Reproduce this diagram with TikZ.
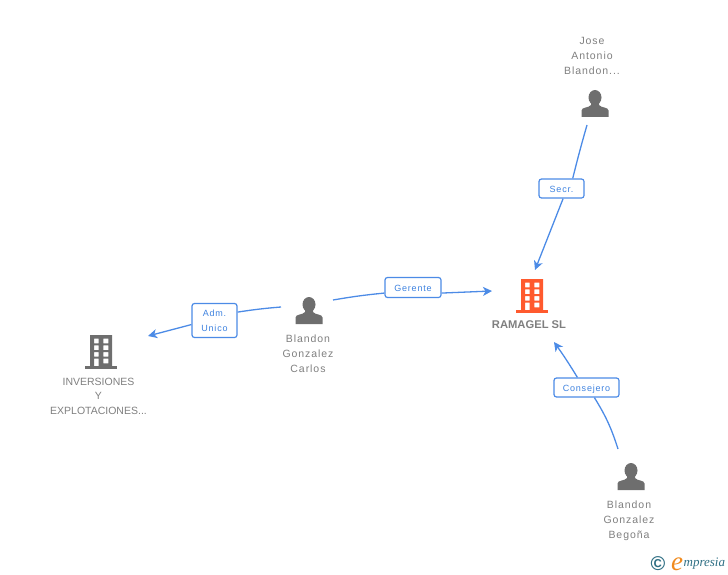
\documentclass[tikz,border=0pt]{standalone}
\usepackage{fontspec}
\setmainfont{Liberation Sans}
\newfontfamily\widefont[LetterSpace=9]{Liberation Sans}
\newfontfamily\logofont{Liberation Serif}
\usetikzlibrary{arrows,arrows.meta,calc}
\definecolor{linkblue}{HTML}{3F83E0}
\definecolor{edgeblue}{HTML}{4C8BE6}
\definecolor{textgrey}{HTML}{7F7F7F}
\definecolor{icongrey}{HTML}{6E6E6E}
\definecolor{firmred}{HTML}{FF5A2E}
\definecolor{logoteal}{HTML}{2F6F84}
\definecolor{logoorange}{HTML}{F08A1D}

\begin{document}
\begin{tikzpicture}
  [
    x=1pt, y=-1pt,
    role/.style =
      {draw=edgeblue, fill=white, rounded corners=2.5pt, line width=1.2pt, align=center,
       text=linkblue, inner sep=0pt, font=\widefont\fontsize{9}{15}\selectfont,
       execute at begin node={\rule{0pt}{9pt}}},
    who/.style =
      {align=center, text=textgrey, inner sep=0pt, font=\widefont\fontsize{10.5}{15}\selectfont},
    firm/.style =
      {align=center, text=textgrey, inner sep=0pt, font=\fontsize{10.5}{14.5}\selectfont},
    link/.style =
      {draw=edgeblue, line width=1.3pt},
    tip/.style =
      {->, >={Stealth[length=9pt, width=9pt, inset=2.5pt]}},
    person/.pic =
      {\fill[icongrey] (0,-6.5) ellipse (6.5 and 7.5);
       \fill[icongrey] (-13.5,13) -- (-13.5,6.5) .. controls (-13.5,3) and (-6,4) .. (-4,1)
         -- (-4,-3) -- (4,-3) -- (4,1) .. controls (6,4) and (13.5,3) .. (13.5,6.5) -- (13.5,13) -- cycle;},
    building/.pic =
      {\fill[#1, even odd rule] (-11,-17) rectangle (11,14)
         (-7,-13.3) rectangle (-2.3,-8.7) (2.3,-13.3) rectangle (7.3,-8.7)
         (-7,-6.7) rectangle (-2.3,-2) (2.3,-6.7) rectangle (7.3,-2)
         (-7,0) rectangle (-2.3,4.7) (2.3,0) rectangle (7.3,4.7)
         (-7,6.7) rectangle (-2.3,14) (2.3,6.7) rectangle (7.3,11.3);
       \fill[#1] (-16,14) rectangle (16,17);}
  ]
  \useasboundingbox (0,0) rectangle (728,575);

  \pic at (595,104) {person};
  \pic at (309,311) {person};
  \pic at (631,477) {person};
  \pic at (532,296) {building=firmred};
  \pic at (101,352) {building=icongrey};

  \node [who]  at (592,56)    (j) {Jose\\Antonio\\Blandon...};
  \node [who]  at (308,354)   (c) {Blandon\\Gonzalez\\Carlos};
  \node [who]  at (629,521)   (b) {Blandon\\Gonzalez\\Begoña};
  \node [firm] at (98.5,396)  (i) {INVERSIONES\\Y\\EXPLOTACIONES...};
  \node [firm, font=\bfseries\fontsize{11.2}{14}\selectfont] at (529,325) (r) {RAMAGEL SL};

  \node [role, minimum width=45, minimum height=19] at (561.5,188.5) (sec) {Secr.};
  \node [role, minimum width=56, minimum height=20] at (413,287.5)   (ger) {Gerente};
  \node [role, minimum width=45, minimum height=34] at (214.5,320.5) (adm) {Adm.\\Unico};
  \node [role, minimum width=65, minimum height=19] at (586.5,387.5) (con) {Consejero};

  \coordinate (js) at (587,125);
  \coordinate (je) at (535,270);
  \coordinate (cr) at (333,300);
  \coordinate (re) at (492,291);
  \coordinate (cl) at (281,307);
  \coordinate (ie) at (148,336);
  \coordinate (bs) at (618,449);
  \coordinate (be) at (554,342);

  \draw[link]      (js)      to[bend right=1] (sec.42);
  \draw[link, tip] (sec.-81) to               (je);
  \draw[link]      (cr)      to[bend left=2]  (ger.191);
  \draw[link, tip] (ger.-11) to               (re);
  \draw[link]      (cl)      to[bend right=2] (adm.20);
  \draw[link, tip] (adm.190) to               (ie);
  \draw[link]      (bs)      to[bend right=7] (con.-52);
  \draw[link, tip] (con.132) to[bend right=2] (be);

  \node [inner sep=0pt, text=logoteal, font=\bfseries\fontsize{20}{20}\selectfont] at (658,564) (copy) {\textcopyright};
  \node [inner sep=0pt, text=logoorange, font=\logofont\itshape\fontsize{27}{27}\selectfont] at (677,564) (e) {e};
  \node [inner sep=0pt, text=logoteal, anchor=west, font=\logofont\itshape\fontsize{13}{13}\selectfont] at (683.5,564) (m) {mpresia};
\end{tikzpicture}
\end{document}
